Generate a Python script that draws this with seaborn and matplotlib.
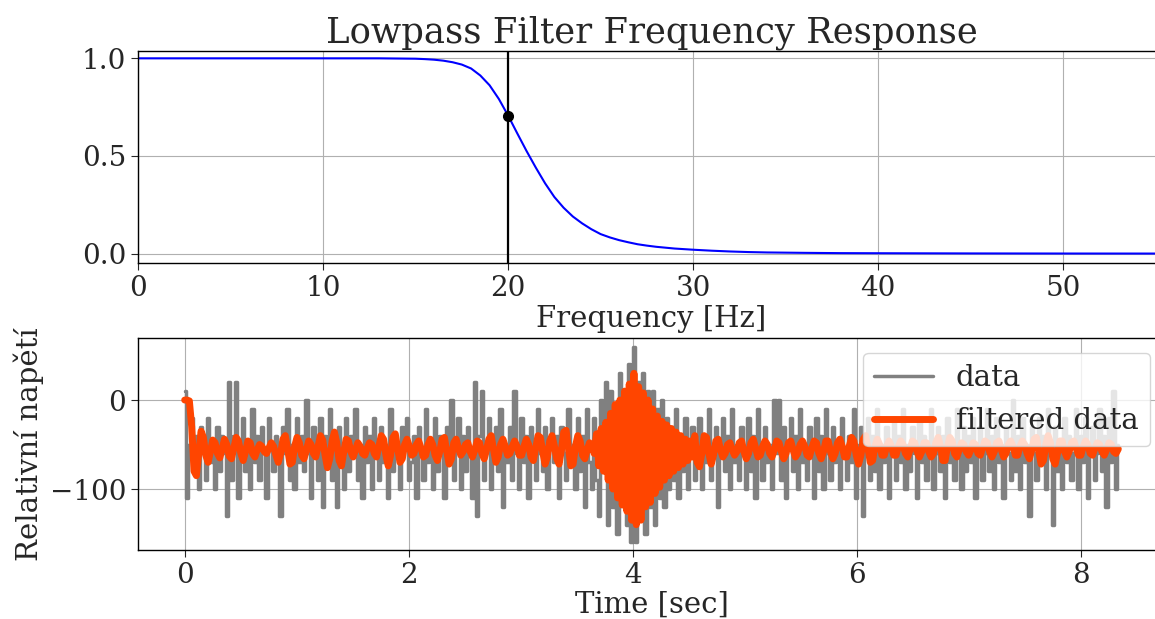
import numpy as np
import matplotlib
matplotlib.use("Agg")
import matplotlib.pyplot as plt
import seaborn as sns

# ---------------- data ----------------
freq_hz = [0, 5, 10, 13, 14, 15, 15.5, 16, 16.5, 17, 17.5, 18, 18.5, 19, 19.5, 20,
           20.5, 21, 21.5, 22, 22.5, 23, 23.5, 24, 24.5, 25, 25.5, 26, 26.5, 27,
           27.5, 28, 29, 30, 31, 32, 33, 34, 36, 38, 40, 45, 50, 55.5]
gain = [1.0, 1.0, 1.0, 1.0, 0.999, 0.998, 0.996, 0.993, 0.988, 0.98, 0.968, 0.948,
        0.912, 0.862, 0.792, 0.707, 0.615, 0.525, 0.44, 0.36, 0.29, 0.235, 0.19,
        0.155, 0.125, 0.1, 0.083, 0.069, 0.058, 0.048, 0.041, 0.035, 0.026, 0.02,
        0.015, 0.011, 0.008, 0.006, 0.004, 0.0025, 0.002, 0.001, 0.0005, 0.0003]
cutoff_hz = 20
cutoff_gain = 0.707

duration_s = 8.33
data = [
    10, -110, -50, -20, -80, -40, -100, -30, -60, -90, -20, -70, -50, -100, -30, -80, -40, -60, -130, 20,
    -90, -40, 20, -110, -60, -20, -80, -50, -100, -10, -70, -40, -90, -30, -60, -110, -20, -50, -80, -40,
    -70, -130, -30, -60, -10, -90, -50, -100, -20, -70, -40, -80, 0, -60, -110, -30, -50, -90, -20, -120,
    -40, -70, -10, -90, -50, -120, -30, -60, -100, -20, -80, -40, -60, -10, -90, -50, -110, -30, -70, -40,
    -100, -20, -60, -90, -30, -70, -50, -110, -10, -80, -40, -60, -100, -30, -50, -20, -90, -70, -40, -110,
    -30, -60, -90, -10, -70, -50, -100, -20, -80, -40, -60, -110, -30, -70, 0, -90, -50, -20, -100, -40,
    -80, -30, -60, -110, 20, -130, -40, 10, -90, -50, -20, -100, -60, -30, -80, -10, -120, -50, -70, -30,
    -90, 10, -60, -100, -20, -70, -40, -110, -30, -50, -90, -10, -60, -80, -30, -100, -50, -20, -70, -40,
    -110, -30, -60, -90, -10, -70, -50, -100, -20, -80, -40, -120, -10, -70, -100, -20, -90, -130, 0, -60,
    20, -140, 10, -120, -20, -150, 30, -110, 0, -140, 40, -160, 60, -160, 20, -130, 30, -150, 10, -120,
    10, -140, -10, -110, 0, -120, -20, -100, -30, -90, -10, -110, -40, -80, -20, -100, -50, -30, -90, -60,
    -20, -100, -40, -70, -10, -90, -50, -30, -120, -60, -20, -80, -40, -100, -10, -70, -50, -90, -30, -60,
    -100, -20, -80, -40, -110, -10, -60, -90, -30, -70, -50, -100, 0, -60, 0, -90, -30, -110, -50, -20,
    -80, -40, -100, -10, -70, -50, -90, -30, -60, -110, -20, -80, -40, -100, -10, -60, -90, -30, -70, -50,
    -100, -20, -60, -90, -40, -70, -10, -110, -50, -30, -130, -60, -20, -90, -40, -80, -10, -100, -50, -70,
    -30, -110, -60, -20, -90, -40, -70, -10, -100, -50, -80, -30, -60, -110, -20, -70, -40, -90, -50, -10,
    -100, -60, -30, -80, -40, -110, -20, -70, -50, -90, -10, -60, -100, -30, -80, -40, -70, -20, -110, -50,
    -30, -90, -60, -10, -80, -40, -100, -20, -70, -50, -110, -30, -60, -90, 0, -80, -40, -100, -20, -70,
    -50, -130, -30, -60, -90, -20, -70, -40, -100, -10, -60, -140, -30, -80, -50, -100, -20, -70, -40, -90,
    -60, -10, -100, -40, -70, -20, -110, -50, -30, -90, -60, -10, -80, -40, -120, -20, -70, 10, -100, -50,
]
filtered = [
    0, 0, -1, -30, -80, -85, -60, -35, -42, -62, -70, -58, -45, -48, -60, -65, -55, -44, -50, -63,
    -66, -54, -42, -46, -60, -68, -58, -46, -48, -60, -64, -56, -50, -52, -58, -60, -54, -48, -52, -62,
    -70, -60, -44, -40, -55, -72, -70, -52, -42, -48, -62, -66, -56, -46, -50, -60, -64, -52, -40, -45,
    -62, -76, -66, -46, -36, -48, -68, -74, -58, -44, -46, -58, -64, -56, -48, -52, -60, -62, -54, -48,
    -50, -60, -64, -52, -40, -44, -62, -74, -62, -42, -38, -54, -70, -66, -50, -44, -52, -62, -60, -50,
    -46, -54, -64, -62, -50, -44, -50, -62, -68, -58, -44, -42, -58, -72, -66, -48, -44, -54, -62, -58,
    -50, -48, -58, -64, -56, -46, -48, -60, -66, -56, -44, -40, -56, -70, -64, -50, -44, -52, -62, -60,
    -52, -46, -52, -62, -62, -52, -44, -50, -64, -68, -54, -40, -42, -58, -72, -64, -46, -40, -52, -66,
    -72, -56, -36, -34, -54, -74, -72, -52, -40, -46, -62, -66, -56, -48, -52, -60, -38, -74, -32, -80,
    -25, -90, -15, -100, -5, -110, 0, -118, 10, -125, 18, -135, 30, -140, 15, -135, 8, -120, 0, -115,
    -10, -105, -18, -98, -24, -90, -28, -85, -32, -80, -36, -76, -40, -72, -44, -68, -46, -64, -40, -70,
    -75, -60, -40, -42, -60, -72, -62, -46, -44, -56, -64, -60, -50, -48, -56, -62, -58, -48, -46, -58,
    -66, -60, -48, -44, -54, -64, -62, -52, -46, -50, -60, -64, -56, -46, -48, -58, -66, -60, -48, -46,
    -56, -64, -60, -50, -46, -52, -62, -64, -54, -46, -48, -60, -66, -58, -46, -46, -58, -66, -60, -48,
    -44, -52, -64, -64, -52, -42, -46, -62, -72, -62, -44, -40, -54, -70, -68, -52, -44, -50, -62, -62,
    -52, -46, -52, -62, -62, -52, -46, -50, -60, -64, -56, -46, -48, -58, -64, -58, -48, -48, -58, -64,
    -60, -48, -42, -52, -68, -68, -52, -42, -46, -60, -64, -56, -48, -50, -58, -62, -56, -48, -50, -60,
    -62, -54, -46, -48, -58, -64, -58, -48, -46, -56, -64, -60, -50, -46, -52, -62, -62, -52, -46, -50,
    -60, -66, -56, -44, -42, -58, -72, -68, -50, -40, -48, -66, -72, -60, -46, -46, -58, -64, -58, -48,
    -46, -54, -62, -62, -52, -46, -50, -60, -62, -54, -48, -50, -58, -62, -56, -48, -50, -58, -60, -55,
]
freq_ticks = [0, 10, 20, 30, 40, 50]
gain_ticks = [0.0, 0.5, 1.0]
time_ticks = [0, 2, 4, 6, 8]
volt_ticks = [0, -100]

# ---------------- style ----------------
sns.set_style("ticks", {"axes.grid": True, "grid.color": "#b0b0b0",
                        "axes.edgecolor": "black"})
plt.rcParams["font.family"] = ["DejaVu Serif", "DejaVu Sans"]
plt.rcParams["axes.unicode_minus"] = True
FS = 20

fig = plt.figure(figsize=(11.55, 6.19), dpi=100)
ax1 = fig.add_axes([138 / 1155, (619 - 263) / 619, (1165 - 138) / 1155, (263 - 51) / 619])
ax2 = fig.add_axes([138 / 1155, (619 - 550) / 619, (1165 - 138) / 1155, (550 - 338) / 619])

# top: frequency response
sns.lineplot(x=freq_hz, y=gain, ax=ax1, color="blue", linewidth=1.5,
             estimator=None, sort=False)
ax1.axvline(cutoff_hz, color="black", linewidth=1.6)
ax1.plot(cutoff_hz, cutoff_gain, "ko", markersize=7)
ax1.set_xlim(0, 55.5)
ax1.set_ylim(-0.048, 1.0375)
ax1.set_xticks(freq_ticks)
ax1.set_yticks(gain_ticks)
ax1.set_yticklabels([f"{v:.1f}" for v in gain_ticks])
ax1.set_title("Lowpass Filter Frequency Response", fontsize=25.5)
ax1.set_xlabel("Frequency [Hz]", fontsize=21, labelpad=2)
ax1.tick_params(labelsize=FS, length=5)

# bottom: time series
t = np.linspace(0, duration_s, len(data))
sns.lineplot(x=t, y=data, ax=ax2, color="grey", linewidth=2.5, label="data",
             estimator=None, sort=False, drawstyle="steps-mid")
sns.lineplot(x=t, y=filtered, ax=ax2, color="orangered", linewidth=5,
             label="filtered data", estimator=None, sort=False)
ax2.set_xlim(-0.4165, 8.7465)
ax2.set_ylim(-168.5, 69.7)
ax2.set_xticks(time_ticks)
ax2.set_yticks(volt_ticks)
ax2.set_xlabel("Time [sec]", fontsize=21, labelpad=1)
ax2.set_ylabel("Relativní napětí", fontsize=21)
ax2.tick_params(labelsize=FS, length=5)
leg = ax2.legend(loc="upper right", fontsize=21, framealpha=0.8)

for ax in (ax1, ax2):
    for s in ax.spines.values():
        s.set_color("black")
        s.set_linewidth(1.0)

fig.savefig("out.png", dpi=100)
